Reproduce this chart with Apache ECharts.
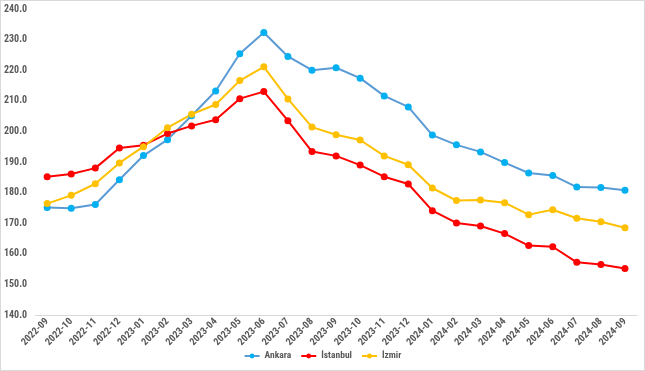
<!DOCTYPE html>
<html><head><meta charset="utf-8">
<script src="https://cdn.jsdelivr.net/npm/echarts@6/dist/echarts.min.js"></script>
<style>html,body{margin:0;padding:0;background:#fff}#c{position:absolute;left:0;top:0;width:643px;height:369px;border:1px solid #d9d9d9}</style>
</head><body><div id="c"></div>
<script>
const categories = ["2022-09","2022-10","2022-11","2022-12","2023-01","2023-02","2023-03","2023-04","2023-05","2023-06","2023-07","2023-08","2023-09","2023-10","2023-11","2023-12","2024-01","2024-02","2024-03","2024-04","2024-05","2024-06","2024-07","2024-08","2024-09"];
const ankara = [175.1,174.9,176.1,184.2,192.1,197.3,205.1,213.2,225.4,232.3,224.5,220.0,220.8,217.4,211.6,208.0,198.8,195.6,193.3,189.8,186.4,185.6,181.8,181.7,180.8];
const istanbul = [185.2,186.1,188.0,194.6,195.5,199.3,201.8,203.8,210.7,213.0,203.5,193.4,192.0,189.0,185.2,182.8,174.1,170.1,169.1,166.6,162.7,162.3,157.2,156.5,155.2];
const izmir = [176.4,179.1,182.9,189.7,195.0,201.2,205.6,208.8,216.6,221.1,210.6,201.4,198.9,197.2,192.0,189.1,181.5,177.4,177.6,176.7,172.8,174.4,171.6,170.5,168.5];
const seriesNames = ["Ankara","İstanbul","İzmir"];

const chart = echarts.init(document.getElementById('c'));
function mk(name, data, lineColor, markColor){
  return {name:name,type:'line',data:data,symbol:'circle',symbolSize:7,
    lineStyle:{color:lineColor,width:2},itemStyle:{color:markColor},emphasis:{disabled:true}};
}
const ff = '"Liberation Sans Narrow", "Roboto Condensed", Roboto, sans-serif';
chart.setOption({
  animation:false,
  textStyle:{fontFamily:ff},
  grid:{left:31,right:7,top:8,bottom:55},
  legend:{bottom:4,left:'center',itemWidth:15,itemHeight:6,itemGap:9,
    textStyle:{fontSize:9.5,fontWeight:'bold',color:'#595959',fontFamily:ff},data:seriesNames},
  xAxis:{type:'category',data:categories,boundaryGap:true,
    axisLine:{lineStyle:{color:'#d9d9d9'}},axisTick:{show:false},
    axisLabel:{rotate:45,fontSize:10,fontWeight:'bold',color:'#595959',margin:5,interval:0,fontFamily:ff}},
  yAxis:{type:'value',min:140,max:240,interval:10,
    axisLine:{show:false},axisTick:{show:false},splitLine:{show:false},
    axisLabel:{fontSize:10,fontWeight:'bold',color:'#595959',margin:8,fontFamily:ff,formatter:v=>v.toFixed(1)}},
  series:[mk(seriesNames[0],ankara,'#5B9BD5','#00B0F0'),
          mk(seriesNames[1],istanbul,'#FF0000','#FF0000'),
          mk(seriesNames[2],izmir,'#FFC000','#FFC000')]
});
</script></body></html>
